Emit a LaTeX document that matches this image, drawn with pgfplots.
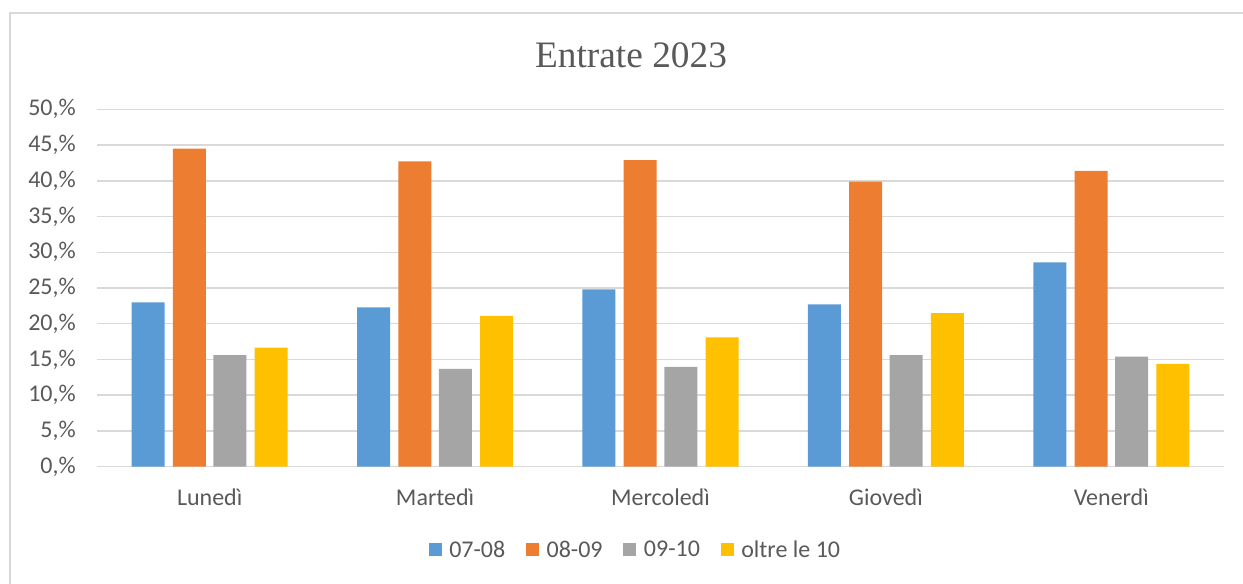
\documentclass[border=0pt]{standalone}
\usepackage{fontspec}
\setmainfont{Carlito}
\newfontfamily\titlefont{Liberation Serif}
\usepackage{pgfplots}
\pgfplotsset{compat=1.18}
\definecolor{cblue}{HTML}{5B9BD5}
\definecolor{corange}{HTML}{ED7D31}
\definecolor{cgray}{HTML}{A5A5A5}
\definecolor{cyellow}{HTML}{FFC000}
\definecolor{ctext}{HTML}{595959}
\definecolor{cgrid}{HTML}{D9D9D9}
\newlength\px
\setlength\px{0.75pt}
\begin{document}
\begin{tikzpicture}
\useasboundingbox (0,0) rectangle (1243\px,583\px);
\draw[cgrid, line width=1.5\px] (10\px,-20\px) -- (10\px,570\px) -- (1280\px,570\px);
\node[anchor=base, text=ctext, inner sep=0pt] at (631\px,515.3\px) {\titlefont\fontsize{28}{33}\selectfont Entrate 2023};
\begin{axis}[
  at={(97\px,116.3\px)}, anchor=south west,
  scale only axis, width=1127\px, height=357.4\px,
  xmin=-0.5, xmax=4.5, ymin=0, ymax=50,
  ybar, bar width=0.1464,
  axis line style={draw=none},
  major tick length=0pt,
  ytick={0,5,...,50},
  yticklabels={{0,\%},{5,\%},{10,\%},{15,\%},{20,\%},{25,\%},{30,\%},{35,\%},{40,\%},{45,\%},{50,\%}},
  xtick={0,1,2,3,4},
  xticklabels={Lunedì,Martedì,Mercoledì,Giovedì,Venerdì},
  ymajorgrids, grid style={cgrid, line width=1.5\px},
  yticklabel style={anchor=east, inner sep=0pt, xshift=-21\px, text=ctext, font=\fontsize{18}{21}\selectfont},
  xticklabel style={anchor=base, inner sep=0pt, yshift=-39\px, text=ctext, font=\fontsize{18}{21}\selectfont},
  legend style={at={(0.478,-0.233)}, anchor=center, draw=none, legend columns=4,
    font=\fontsize{18}{21}\selectfont, text=ctext,
    /tikz/every odd column/.append style={column sep=5\px},
    /tikz/every even column/.append style={column sep=18\px}},
  legend image code/.code={\fill[#1] (0,-6.5\px) rectangle (13\px,6.5\px);},
  clip=false,
]
\addplot[fill=cblue, draw=none, bar shift=-0.273] coordinates {(0,23.0) (1,22.3) (2,24.8) (3,22.7) (4,28.6)};
\addplot[fill=corange, draw=none, bar shift=-0.090] coordinates {(0,44.5) (1,42.7) (2,42.9) (3,39.9) (4,41.4)};
\addplot[fill=cgray, draw=none, bar shift=0.090] coordinates {(0,15.6) (1,13.7) (2,13.95) (3,15.6) (4,15.4)};
\addplot[fill=cyellow, draw=none, bar shift=0.273] coordinates {(0,16.65) (1,21.1) (2,18.1) (3,21.5) (4,14.4)};
\legend{07-08,08-09,09-10,oltre le 10}
\end{axis}
\end{tikzpicture}
\end{document}
